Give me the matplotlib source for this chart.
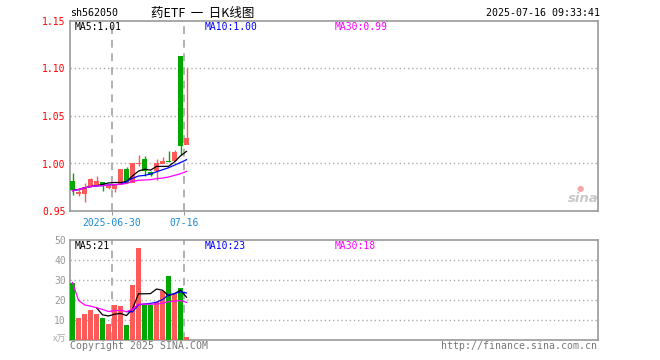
import matplotlib
matplotlib.use("Agg")
import matplotlib.pyplot as plt
from matplotlib.patches import Rectangle

W, H = 660, 360

# daily candles, 2025-06-19 .. 2025-07-16
opens = [0.9816, 0.968, 0.968, 0.976, 0.9774, 0.9806, 0.9747, 0.9735, 0.9785, 0.994,
         0.980, 0.9995, 1.0052, 0.991, 0.992, 1.000, 1.0024, 1.0028, 1.1132, 1.020]
highs = [0.990, 0.973, 0.979, 0.985, 0.987, 0.981, 0.9778, 0.978, 0.994, 0.9965,
         1.001, 1.0087, 1.008, 0.992, 1.005, 1.0066, 1.0128, 1.0142, 1.1132, 1.101]
lows = [0.967, 0.966, 0.959, 0.975, 0.976, 0.9715, 0.9733, 0.970, 0.978, 0.979,
        0.980, 0.9976, 0.987, 0.987, 0.983, 1.000, 1.0014, 1.0028, 1.0087, 1.020]
closes = [0.972, 0.970, 0.975, 0.984, 0.9816, 0.9778, 0.9767, 0.9783, 0.994, 0.980,
          1.001, 1.001, 0.9917, 0.988, 1.001, 1.0024, 1.0014, 1.0122, 1.0184, 1.027]
ma5 = [0.9715, 0.9726, 0.9743, 0.9757, 0.9766, 0.978, 0.9795, 0.980, 0.980, 0.981,
       0.987, 0.992, 0.994, 0.993, 0.9969, 0.997, 0.997, 1.0017, 1.008, 1.0128]
ma10 = [0.9715, 0.9726, 0.9743, 0.9757, 0.9764, 0.9767, 0.9774, 0.9778, 0.978, 0.981,
        0.9844, 0.9868, 0.9875, 0.9889, 0.9913, 0.9934, 0.9955, 0.9983, 1.001, 1.004]
ma30 = [0.9715, 0.9726, 0.9743, 0.9757, 0.9764, 0.9767, 0.9774, 0.9778, 0.978, 0.979,
        0.9812, 0.9823, 0.9826, 0.983, 0.984, 0.9847, 0.9858, 0.9875, 0.9892, 0.9917]

# volume (x10k)
volumes = [28.7, 11, 13, 15, 13, 11, 8, 17.5, 17, 7.5,
           27.5, 46.2, 17.5, 17.5, 19, 24.5, 32.2, 22.8, 26, 1.7]
vol_ma5 = [None, None, None, None, 16.1, 12.6, 12.0, 12.9, 13.3, 12.2,
           15.5, 23.1, 23.1, 23.2, 25.5, 24.9, 22.1, 23.2, 24.9, 21.4]
vol_ma10 = [None] * 9 + [14.2, 14.05, 17.6, 18.0, 18.3, 18.9, 20.2, 22.6, 23.2, 24.1, 23.5]
vol_ma30 = [28.7, 19.85, 17.57, 16.93, 16.14, 15.28, 14.24, 14.65, 14.91, 14.17,
            15.38, 17.95, 17.92, 17.89, 17.96, 18.37, 19.18, 19.38, 19.73, 18.83]

price_ticks = [0.95, 1.00, 1.05, 1.10, 1.15]
vol_ticks = [10, 20, 30, 40, 50]
date_ticks = [7, 19]
date_labels = ["2025-06-30", "07-16"]

RED = "#ff5a5a"
GREEN = "#00a800"
FRAME = "#9a9a9a"
GRID = "#aaaaaa"
MONO = "DejaVu Sans Mono"


def px(x, y):
    return x / W, 1 - y / H


def frame(ax):
    for s in ax.spines.values():
        s.set_color(FRAME)
        s.set_linewidth(1.2)
    ax.set_xlim(-0.4167, 87.583)


fig = plt.figure(figsize=(6.6, 3.6), dpi=100)
ax = fig.add_axes([70 / W, 1 - 211 / H, 528 / W, 190 / H])
axv = fig.add_axes([70 / W, 1 - 340 / H, 528 / W, 100 / H])
frame(ax)
frame(axv)

# price panel
ax.set_ylim(0.95, 1.15)
ax.set_yticks(price_ticks, [f"{v:.2f}" for v in price_ticks])
ax.tick_params(axis="y", length=0, pad=3, labelcolor="red", labelsize=7)
for lab in ax.get_yticklabels():
    lab.set_family(MONO)
for v in price_ticks[1:-1]:
    ax.axhline(v, color=GRID, lw=1, ls=(0, (1, 2)), zorder=0)
ax.set_xticks([d - 0.4 for d in date_ticks], date_labels)
ax.tick_params(axis="x", length=3, color=FRAME, pad=2, labelcolor="#1a88d8", labelsize=7)
for lab in ax.get_xticklabels():
    lab.set_family(MONO)

w = 5 / 6
for i in range(len(opens)):
    o, c = opens[i], closes[i]
    col = RED if c >= o else GREEN
    ax.vlines(i, lows[i], highs[i], color=col, lw=1, zorder=2)
    bot = min(o, c)
    h = max(abs(c - o), 0.0011)
    ax.add_patch(Rectangle((i - w / 2, bot), w, h, facecolor=col, edgecolor="none", zorder=3))

xs = list(range(len(closes)))
ax.plot(xs, ma5, color="black", lw=0.9, zorder=4)
ax.plot(xs, ma10, color="#0000ff", lw=0.9, zorder=4)
ax.plot(xs, ma30, color="#ff00ff", lw=0.9, zorder=4)

# volume panel
axv.set_ylim(0, 50)
axv.set_yticks(vol_ticks, [str(v) for v in vol_ticks])
axv.tick_params(axis="y", length=0, pad=3, labelcolor="#999999", labelsize=7)
for lab in axv.get_yticklabels():
    lab.set_family(MONO)
axv.set_xticks([])
for v in vol_ticks[:-1]:
    axv.axhline(v, color=GRID, lw=1, ls=(0, (1, 2)), zorder=0)
vcols = [RED if closes[i] >= opens[i] else GREEN for i in range(len(volumes))]
axv.bar(xs, volumes, width=w, color=vcols, zorder=3)


def seg(vals):
    pts = [(i, v) for i, v in enumerate(vals) if v is not None]
    return [p[0] for p in pts], [p[1] for p in pts]


axv.plot(*seg(vol_ma5), color="black", lw=0.9, zorder=4)
axv.plot(*seg(vol_ma10), color="#0000ff", lw=0.9, zorder=4)
axv.plot(*seg(vol_ma30), color="#ff00ff", lw=0.9, zorder=4)

for a in (ax, axv):
    for d in date_ticks:
        a.axvline(d - 0.4, color="#b0b0b0", lw=1.4, ls=(0, (4, 3)), zorder=1)

# labels
fig.text(*px(70, 13), "sh562050", family=MONO, fontsize=7.2, va="center", ha="left")
fig.text(*px(203, 13), "药ETF  一  日K线图", family=["Noto Sans CJK SC", "DejaVu Sans"],
         fontsize=9, va="center", ha="center")
fig.text(*px(600, 13), "2025-07-16 09:33:41", family=MONO, fontsize=7.2, va="center", ha="right")

fig.text(*px(75, 27), "MA5:1.01", family=MONO, fontsize=7, va="center", color="black")
fig.text(*px(205, 27), "MA10:1.00", family=MONO, fontsize=7, va="center", color="#0000ff")
fig.text(*px(335, 27), "MA30:0.99", family=MONO, fontsize=7, va="center", color="#ff00ff")

fig.text(*px(75, 246), "MA5:21", family=MONO, fontsize=7, va="center", color="black")
fig.text(*px(205, 246), "MA10:23", family=MONO, fontsize=7, va="center", color="#0000ff")
fig.text(*px(335, 246), "MA30:18", family=MONO, fontsize=7, va="center", color="#ff00ff")

fig.text(*px(66, 339), "x万", family=["Noto Sans CJK SC", "DejaVu Sans"], fontsize=6.5,
         va="center", ha="right", color="#aaaaaa")
fig.text(*px(70, 346), "Copyright 2025 SINA.COM", family=MONO, fontsize=7.1, va="center",
         color="#777777")
fig.text(*px(597, 346), "http://finance.sina.com.cn", family=MONO, fontsize=7.1, va="center",
         ha="right", color="#777777")

# sina mark
fig.text(*px(583, 199), "sina", fontsize=9.5, style="italic", weight="bold", color="#c8c8c8",
         ha="center", va="center")
fig.text(*px(580, 189), "●", fontsize=6, color="#f3a8a8", ha="center", va="center")

fig.savefig("out.png", dpi=100, facecolor="white")
